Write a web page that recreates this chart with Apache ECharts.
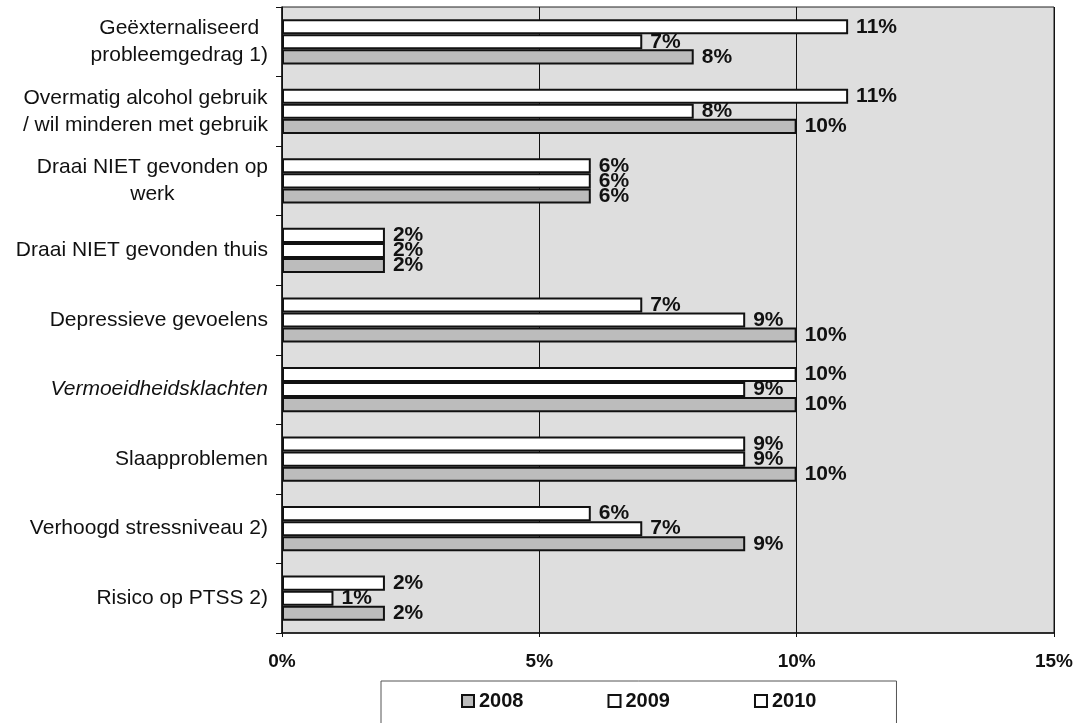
<!DOCTYPE html>
<html>
<head>
<meta charset="utf-8">
<script src="https://cdn.jsdelivr.net/npm/echarts@6/dist/echarts.min.js"></script>
<style>
html,body{margin:0;padding:0;background:#fff;}
#chart{width:1076px;height:723px;}
</style>
</head>
<body>
<div id="chart"></div>
<script>
const categories = [
  'Geëxternaliseerd\nprobleemgedrag 1)',
  'Overmatig alcohol gebruik\n/ wil minderen met gebruik',
  'Draai NIET gevonden op\nwerk',
  'Draai NIET gevonden thuis',
  'Depressieve gevoelens',
  'Vermoeidheidsklachten',
  'Slaapproblemen',
  'Verhoogd stressniveau 2)',
  'Risico op PTSS 2)'
];
const seriesNames = ['2008', '2009', '2010'];
const values2010 = [11, 11, 6, 2, 7, 10, 9, 6, 2];
const values2009 = [7, 8, 6, 2, 9, 9, 9, 7, 1];
const values2008 = [8, 10, 6, 2, 10, 10, 10, 9, 2];
const xTicks = [0, 5, 10, 15];

const italicCats = ['Vermoeidheidsklachten'];
const FONT = 'Liberation Sans, Arial, sans-serif';

const chart = echarts.init(document.getElementById('chart'), null, {renderer: 'canvas'});

const barLayout = {barGap: '0%', barCategoryGap: '35%'};
const fills = {'2008': '#bcbcbc', '2009': '#ffffff', '2010': '#ffffff'};
const dataByName = {'2008': values2008, '2009': values2009, '2010': values2010};
const order = ['2010', '2009', '2008']; // top to bottom inside each group

const visibleSeries = order.map(n => Object.assign({
  name: n,
  type: 'bar',
  yAxisIndex: 0,
  z: 3,
  data: dataByName[n],
  itemStyle: {color: fills[n], borderColor: '#111', borderWidth: 2},
  label: {show: false},
  emphasis: {disabled: true}
}, barLayout));

const labelSeries = order.map(n => Object.assign({
  name: n,
  type: 'bar',
  yAxisIndex: 1,
  z: 1,
  silent: true,
  data: dataByName[n],
  itemStyle: {color: 'rgba(0,0,0,0)', borderWidth: 0},
  label: {
    show: true,
    position: 'right',
    distance: 8,
    formatter: p => p.value + '%',
    fontFamily: FONT,
    fontWeight: 'bold',
    fontSize: 21,
    color: '#111'
  },
  emphasis: {disabled: true}
}, barLayout));

const yBase = {
  type: 'category',
  data: categories,
  inverse: true,
  boundaryGap: true
};

chart.setOption({
  backgroundColor: '#ffffff',
  animation: false,
  grid: {
    left: 282, right: 14, top: 7, bottom: 90,
    show: true,
    backgroundColor: '#dedede',
    borderColor: '#222',
    borderWidth: 1
  },
  legend: {
    data: seriesNames,
    left: 381,
    top: 681,
    orient: 'horizontal',
    icon: 'rect',
    itemWidth: 12,
    itemHeight: 12,
    itemGap: 84,
    padding: [10, 80, 40, 80],
    borderColor: '#555',
    borderWidth: 1,
    textStyle: {fontFamily: FONT, fontSize: 20, fontWeight: 'bold', color: '#111'}
  },
  xAxis: {
    type: 'value',
    min: 0,
    max: 15,
    interval: 5,
    axisLine: {show: true, lineStyle: {color: '#111', width: 1.5}},
    axisTick: {show: true, length: 4, lineStyle: {color: '#111'}},
    splitLine: {show: true, lineStyle: {color: '#111', width: 1}},
    axisLabel: {
      margin: 19,
      fontFamily: FONT,
      fontSize: 19,
      fontWeight: 'bold',
      color: '#111',
      formatter: v => xTicks.indexOf(v) >= 0 ? v + '%' : ''
    }
  },
  yAxis: [
    Object.assign({}, yBase, {
      axisLine: {show: true, lineStyle: {color: '#111', width: 1.5}},
      axisTick: {show: true, length: 6, lineStyle: {color: '#111'}},
      splitLine: {show: false},
      axisLabel: {
        margin: 14,
        color: '#111',
        fontFamily: FONT,
        fontSize: 21,
        formatter: function (v) {
          const key = italicCats.indexOf(v) >= 0 ? 'i' : 'c';
          return v.split('\n').map(l => '{' + key + '|' + l + '}').join('\n');
        },
        rich: {
          c: {align: 'center', fontFamily: FONT, fontSize: 21, lineHeight: 27, color: '#111'},
          i: {align: 'center', fontFamily: FONT, fontSize: 21, lineHeight: 27, color: '#111', fontStyle: 'italic'}
        }
      }
    }),
    Object.assign({}, yBase, {show: false})
  ],
  series: visibleSeries.concat(labelSeries)
});
</script>
</body>
</html>
